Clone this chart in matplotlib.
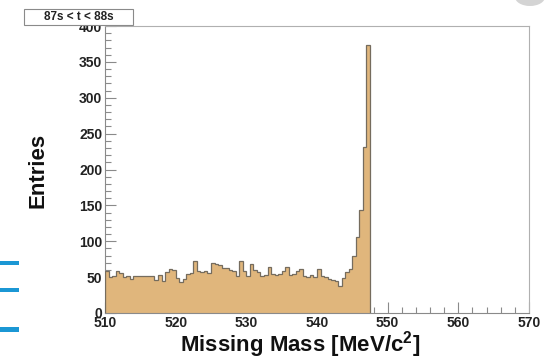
import matplotlib.pyplot as plt
import numpy as np
from matplotlib.patches import Rectangle, Ellipse
from matplotlib.ticker import MultipleLocator

# 0.5 MeV bins from 510 to 547.5
BIN_EDGES_START = 510.0
BIN_WIDTH = 0.5
COUNTS = [
    58, 50, 51, 58, 56, 50, 52, 47, 51, 52,
    52, 52, 52, 52, 46, 53, 44, 57, 62, 60,
    49, 43, 47, 55, 56, 72, 58, 57, 58, 56,
    70, 68, 67, 63, 63, 60, 58, 52, 73, 58,
    52, 68, 60, 57, 52, 53, 64, 55, 53, 54,
    58, 64, 53, 55, 59, 62, 52, 50, 53, 50,
    62, 52, 50, 47, 46, 45, 38, 49, 57, 62,
    80, 106, 143, 231, 373,
]
TITLE = "87s < t < 88s"
X_LABEL = "Missing Mass [MeV/c$\\mathbf{^2}$]"
Y_LABEL = "Entries"

FILL = "#e0b67c"
EDGE = "#756c5e"
FRAME = "#8a8a8a"

plt.rcParams["font.family"] = ["Liberation Sans", "DejaVu Sans"]
plt.rcParams["font.weight"] = "bold"
plt.rcParams["mathtext.fontset"] = "custom"
plt.rcParams["mathtext.bf"] = "Liberation Sans:bold"
plt.rcParams["mathtext.rm"] = "Liberation Sans:bold"

edges = BIN_EDGES_START + BIN_WIDTH * np.arange(len(COUNTS) + 1)

fig = plt.figure(figsize=(5.46, 3.59), dpi=100)
ax = fig.add_axes([105 / 546, 1 - 313 / 359, 424 / 546, 287 / 359])

ax.stairs(COUNTS, edges, fill=True, color=FILL, zorder=2)
ax.stairs(COUNTS, edges, fill=False, color=EDGE, linewidth=0.9, zorder=3)

ax.set_xlim(510, 570)
ax.set_ylim(0, 400)
ax.xaxis.set_major_locator(MultipleLocator(10))
ax.xaxis.set_minor_locator(MultipleLocator(2))
ax.yaxis.set_major_locator(MultipleLocator(50))
ax.yaxis.set_minor_locator(MultipleLocator(10))

ax.tick_params(which="both", direction="in", color=FRAME, width=0.8,
               top=False, right=False, labelsize=10)
ax.tick_params(which="major", length=8)
ax.tick_params(which="minor", length=4)
ax.tick_params(axis="x", pad=2)
ax.tick_params(axis="y", pad=2)
for lab in ax.get_xticklabels() + ax.get_yticklabels():
    lab.set_fontweight("bold")
    lab.set_color("#222222")

for sp in ax.spines.values():
    sp.set_color(FRAME)
    sp.set_linewidth(0.8)
ax.spines["top"].set_color("#b0b0b0")
ax.spines["right"].set_color("#b0b0b0")

ax.set_xlabel(X_LABEL, fontsize=16, fontweight="bold", color="#111111")
ax.xaxis.set_label_coords(0.46, -0.11)
ax.xaxis.label.set_va("center")
ax.set_ylabel(Y_LABEL, fontsize=16, fontweight="bold", color="#111111")
ax.yaxis.set_label_coords(-0.158, 0.495)
ax.yaxis.label.set_va("center")

# title box in the top-left corner, ROOT style
fig.patches.append(Rectangle((24 / 546, 1 - 25 / 359), 109 / 546, 16 / 359,
                             transform=fig.transFigure, facecolor="white",
                             edgecolor="#8a8a8a", linewidth=0.8, zorder=5))
fig.text(78.5 / 546, 1 - 17 / 359, TITLE, fontsize=8.5, fontweight="bold",
         ha="center", va="center", color="#222222", zorder=6)

# blue bars at the left edge and grey blob at the top right
for yc, h in [(263, 4), (290, 3.5), (329, 5)]:
    fig.patches.append(Rectangle((0, 1 - (yc + h / 2) / 359), 19 / 546, h / 359,
                                 transform=fig.transFigure, facecolor="#1b97d4",
                                 edgecolor="none", zorder=1))
fig.patches.append(Ellipse((530 / 546, 1 + 3 / 359), 30 / 546, 18 / 359,
                           transform=fig.transFigure, facecolor="#d4d4d4",
                           edgecolor="none", zorder=1))

fig.savefig("out.png", dpi=100)
